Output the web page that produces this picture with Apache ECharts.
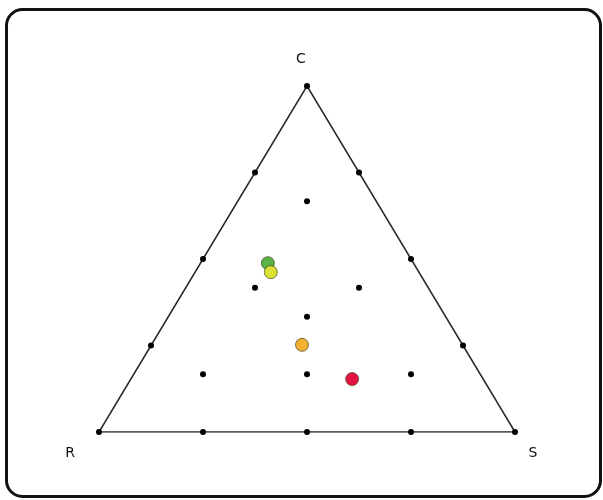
<!DOCTYPE html>
<html>
<head>
<meta charset="utf-8">
<script src="https://cdn.jsdelivr.net/npm/echarts@6/dist/echarts.min.js"></script>
<style>
  html, body { margin: 0; padding: 0; background: #fff; }
  #main { width: 603px; height: 500px; }
</style>
</head>
<body>
<div id="main"></div>
<script>
// ternary coordinates [R, S, C]
var vertexNames = ['R', 'S', 'C'];
var vertices = [[1, 0, 0], [0, 1, 0], [0, 0, 1]];
var gridDots = [
    [0.75, 0, 0.25], [0.5, 0, 0.5], [0.25, 0, 0.75],
    [0, 0.75, 0.25], [0, 0.5, 0.5], [0, 0.25, 0.75],
    [0.75, 0.25, 0], [0.5, 0.5, 0], [0.25, 0.75, 0],
    [1/6, 1/6, 2/3], [5/12, 1/6, 5/12], [1/6, 5/12, 5/12],
    [1/3, 1/3, 1/3], [2/3, 1/6, 1/6], [5/12, 5/12, 1/6], [1/6, 2/3, 1/6]
];
var pointNames = ['green', 'yellow', 'orange', 'red'];
var pointValues = [
    [0.35, 0.162, 0.488],
    [0.356, 0.182, 0.462],
    [0.386, 0.362, 0.252],
    [0.315, 0.532, 0.153]
];
var pointColors = ['#58b244', '#dbe033', '#f1b030', '#e3143f'];

function toXY(p) {
    return [p[1] + p[2] / 2, p[2]];
}

var chart = echarts.init(document.getElementById('main'), null);
var option;
option = {
    animation: false,
    grid: {
        left: 99,
        right: 88,
        top: 86,
        bottom: 68
    },
    xAxis: { type: 'value', min: 0, max: 1, show: false },
    yAxis: { type: 'value', min: 0, max: 1, show: false },
    graphic: [{
        type: 'rect',
        shape: { x: 6.5, y: 9.5, width: 594, height: 487, r: 16 },
        style: { fill: 'none', stroke: '#111', lineWidth: 3 },
        z: 100
    }],
    series: [
        {
            name: 'triangle',
            type: 'line',
            data: vertices.concat([vertices[0]]).map(toXY),
            symbol: 'none',
            lineStyle: { color: '#2a2a2a', width: 1.5 },
            z: 1
        },
        {
            name: 'vertices',
            type: 'scatter',
            symbolSize: 6,
            itemStyle: { color: '#000', opacity: 1 },
            data: vertices.map(function (v, i) {
                var offs = [[-29, 21], [18, 21], [-6, -27]];
                return {
                    value: toXY(v),
                    label: {
                        show: true,
                        formatter: vertexNames[i],
                        position: 'inside',
                        offset: offs[i],
                        color: '#111',
                        fontSize: 14,
                        fontFamily: 'DejaVu Sans'
                    }
                };
            }),
            z: 3
        },
        {
            name: 'grid',
            type: 'scatter',
            symbolSize: 6,
            itemStyle: { color: '#000', opacity: 1 },
            data: gridDots.map(toXY),
            z: 3
        },
        {
            name: 'points',
            type: 'scatter',
            symbolSize: 13,
            data: pointValues.map(function (p, i) {
                return {
                    name: pointNames[i],
                    value: toXY(p),
                    itemStyle: {
                        color: pointColors[i],
                        opacity: 1,
                        borderColor: 'rgba(70,70,40,0.7)',
                        borderWidth: 1
                    }
                };
            }),
            z: 4
        }
    ]
};

chart.setOption(option);

window.addEventListener('resize', function () {
    chart.resize();
});
</script>
</body>
</html>
